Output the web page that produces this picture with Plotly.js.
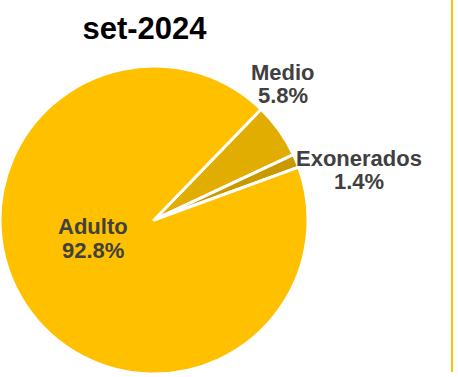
<!DOCTYPE html>
<html>
<head>
<meta charset="utf-8">
<script src="https://cdn.plot.ly/plotly-3.0.1.min.js"></script>
<style>html,body{margin:0;padding:0;background:#fff;}#chart{width:458px;height:377px;}</style>
</head>
<body>
<div id="chart"></div>
<script>
const categories = ["Medio", "Exonerados", "Adulto"];
const values = [5.8, 1.4, 92.8];
const colors = ["#E0AD00", "#C99A00", "#FFC000"];
const chartTitle = "set-2024";

// label anchor points (pixels from top-left) for name line and percent line
const labelPos = [
  {x: 283, yName: 72, yPct: 95.5},
  {x: 358.5, yName: 158, yPct: 181.5},
  {x: 92.5, yName: 226.5, yPct: 251}
];

const W = 458, H = 377;
const FONT = "Liberation Sans, Arial, sans-serif";

const trace = {
  type: "pie",
  labels: categories,
  values: values,
  sort: false,
  direction: "clockwise",
  rotation: 44,
  marker: {colors: colors, line: {color: "#FFFFFF", width: 3}},
  textinfo: "none",
  hoverinfo: "label+percent",
  showlegend: false,
  domain: {x: [0, 0.6725], y: [0.005, 0.828]}
};

const annotations = [];
categories.forEach((c, i) => {
  const p = labelPos[i];
  const f = {family: FONT, size: 22, color: "#404040", weight: "bold"};
  annotations.push({text: "<b>" + c + "</b>", xref: "paper", yref: "paper",
    x: p.x / W, y: 1 - p.yName / H, xanchor: "center", yanchor: "middle",
    showarrow: false, font: f});
  annotations.push({text: "<b>" + values[i].toFixed(1) + "%</b>", xref: "paper", yref: "paper",
    x: p.x / W, y: 1 - p.yPct / H, xanchor: "center", yanchor: "middle",
    showarrow: false, font: f});
});

const layout = {
  width: W,
  height: H,
  margin: {l: 0, r: 0, t: 0, b: 0},
  paper_bgcolor: "#FFFFFF",
  title: {
    text: "<b>" + chartTitle + "</b>",
    font: {family: FONT, size: 31, color: "#000000"},
    x: 144.5 / W, xanchor: "center", y: 1 - 28 / H, yanchor: "middle"
  },
  annotations: annotations,
  shapes: [{
    type: "line", xref: "paper", yref: "paper",
    x0: 452 / W, x1: 452 / W, y0: 5 / H, y1: 1,
    line: {color: "#FFC000", width: 2}
  }]
};

Plotly.newPlot("chart", [trace], layout, {staticPlot: true});
</script>
</body>
</html>
